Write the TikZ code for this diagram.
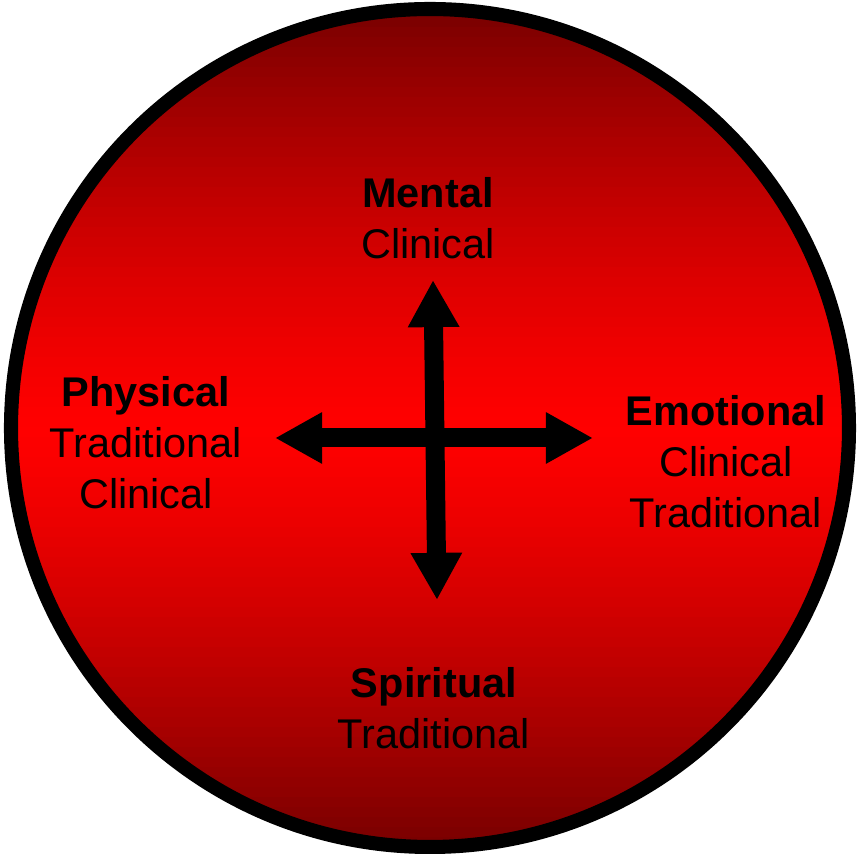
\documentclass[tikz,border=0pt]{standalone}
\usepackage{fontspec}
\setmainfont{Liberation Sans}
\usetikzlibrary{arrows.meta}
\begin{document}
\begin{tikzpicture}[
  x=0.01cm, y=0.01cm,
  label/.style={font=\fontsize{11.8}{14.5}\selectfont, align=center, inner sep=0pt},
  bigarrow/.style={line width=5.4pt, {Triangle[width=13.7pt,length=13.4pt]}-{Triangle[width=13.7pt,length=13.4pt]}}
]
\useasboundingbox (0,0) rectangle (859,854);
% red disc, dark at top and bottom
\begin{scope}
  \clip (430,426) circle (419);
  \foreach \i in {0,...,85} {
    \pgfmathsetmacro\ylow{7+\i*10}
    \pgfmathsetmacro\shadepct{47+53*(1-(abs(\ylow+5-426)/419)^1.3)}
    \fill[red!\shadepct!black] (0,\ylow) rectangle (859,\ylow+11);
  }
\end{scope}
\draw[line width=4pt] (430,426) circle (419);
\coordinate (west) at (275,416);
\coordinate (east) at (593,416);
\coordinate (north) at (433,574);
\coordinate (south) at (437,254);
\draw[bigarrow] (west) -- (east);
\draw[bigarrow] (north) -- (south);
\node[label] (mental) at (428,636) {\textbf{Mental}\\Clinical};
\node[label] (physical) at (146,411) {\textbf{Physical}\\Traditional\\Clinical};
\node[label] (emotional) at (726,392) {\textbf{Emotional}\\Clinical\\Traditional};
\node[label] (spiritual) at (434,146) {\textbf{Spiritual}\\Traditional};
\end{tikzpicture}
\end{document}
